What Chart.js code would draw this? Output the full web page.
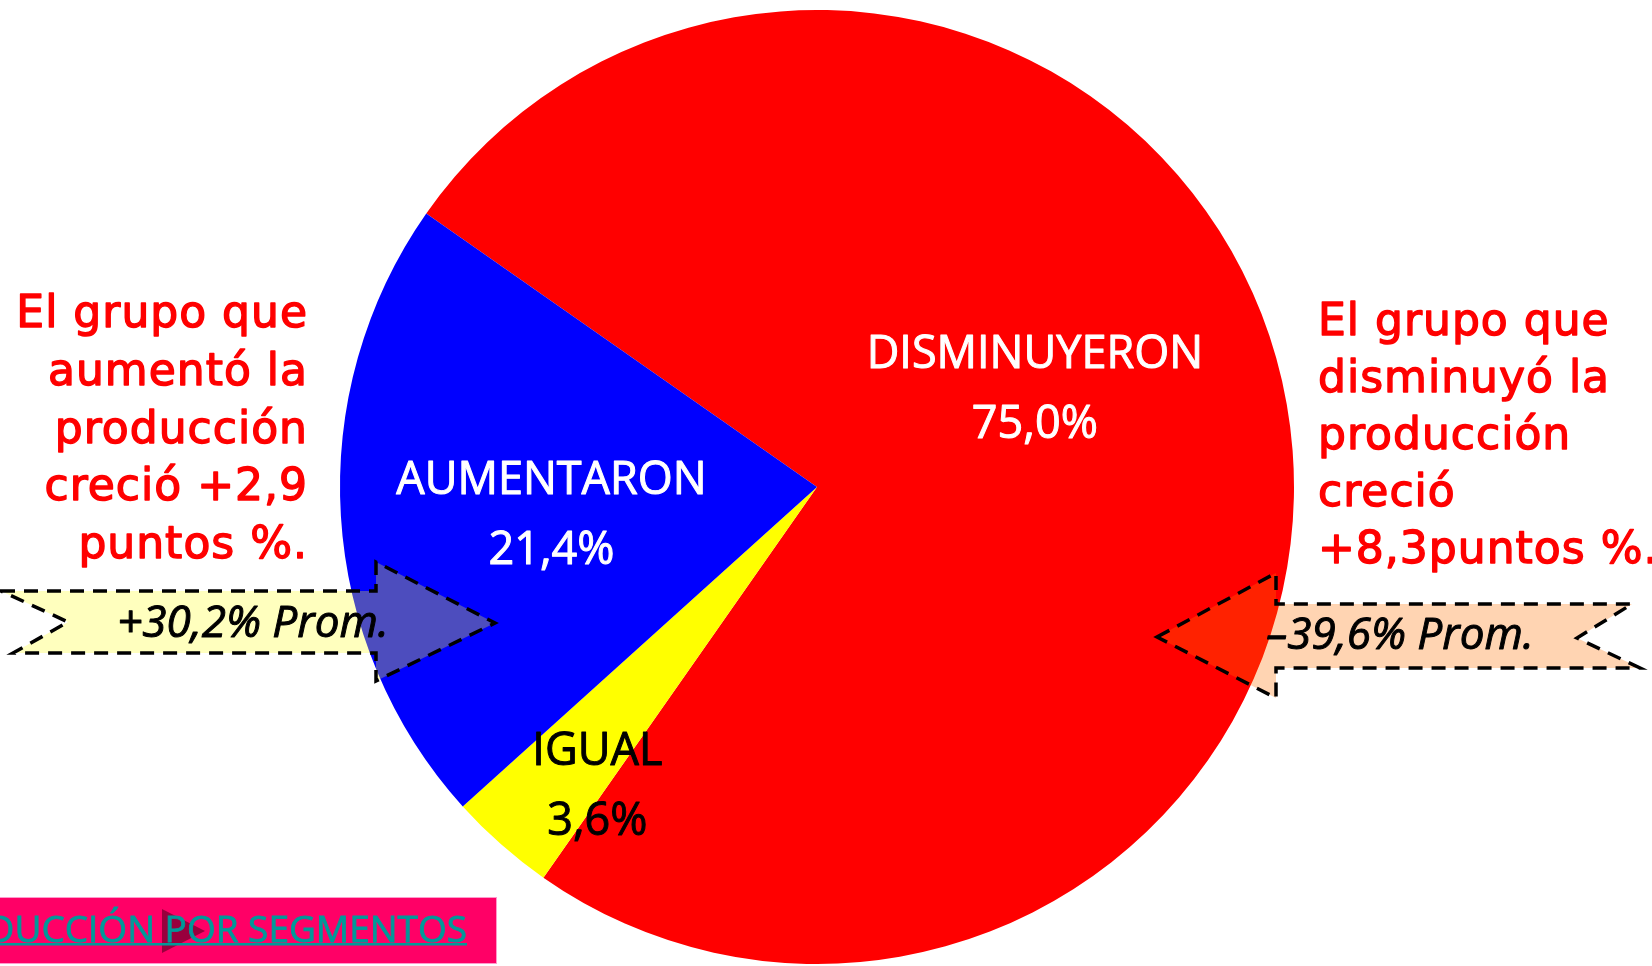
<!DOCTYPE html>
<html>
<head>
<meta charset="utf-8">
<script src="https://cdn.jsdelivr.net/npm/chart.js@4"></script>
<style>
  body { margin: 0; background: #fff; }
  canvas { display: block; }
</style>
</head>
<body>
<canvas id="pie" width="1652" height="966"></canvas>
<script>
// datos del gráfico
const categorias = ["DISMINUYERON", "IGUAL", "AUMENTARON"];
const porcentajes = [75.0, 3.6, 21.4];
const colores = ["#FF0000", "#FFFF00", "#0000FF"];
const coloresTexto = ["#FFFFFF", "#000000", "#FFFFFF"];

const notaIzq = ["El grupo que", "aumentó la", "producción", "creció +2,9", "puntos %."];
const notaDer = ["El grupo que", "disminuyó la", "producción", "creció", "+8,3puntos %."];
const promedios = ["+30,2% Prom.", "\u201339,6% Prom."];
const enlace = "PRODUCCIÓN POR SEGMENTOS";

// ajuste de la posición de cada etiqueta: [fracción del radio, giro en grados]
const posEtiqueta = [[0.50, -14], [0.78, -5.3], [0.56, -2.7]];

function fmt(v) {
  return v.toFixed(1).replace(".", ",") + "%";
}

function flecha(ctx, pts, relleno) {
  ctx.save();
  ctx.beginPath();
  ctx.moveTo(pts[0][0], pts[0][1]);
  for (let i = 1; i < pts.length; i++) ctx.lineTo(pts[i][0], pts[i][1]);
  ctx.closePath();
  ctx.fillStyle = relleno;
  ctx.fill();
  ctx.setLineDash([14, 9]);
  ctx.lineWidth = 3.5;
  ctx.strokeStyle = "#000";
  ctx.stroke();
  ctx.restore();
}

// texto con trazo fino para engrosarlo un poco
function texto(ctx, t, x, y, grosor) {
  ctx.fillText(t, x, y);
  ctx.lineWidth = grosor;
  ctx.strokeText(t, x, y);
}

const extras = {
  id: "extras",
  afterDatasetsDraw(chart) {
    const ctx = chart.ctx;
    const arcs = chart.getDatasetMeta(0).data;

    // etiquetas dentro de la torta
    ctx.save();
    ctx.font = "45px 'Open Sans'";
    ctx.textAlign = "center";
    ctx.textBaseline = "middle";
    ctx.lineJoin = "round";
    arcs.forEach((arc, i) => {
      const p = arc.getProps(["x", "y", "startAngle", "endAngle", "outerRadius"], true);
      const a = (p.startAngle + p.endAngle) / 2 + posEtiqueta[i][1] * Math.PI / 180;
      const r = p.outerRadius * posEtiqueta[i][0];
      const cx = p.x + Math.cos(a) * r;
      const cy = p.y + Math.sin(a) * r;
      ctx.fillStyle = coloresTexto[i];
      ctx.strokeStyle = coloresTexto[i];
      texto(ctx, categorias[i], cx, cy - 35, 1);
      texto(ctx, fmt(porcentajes[i]), cx, cy + 35, 1);
    });
    ctx.restore();

    // flechas de promedio
    flecha(ctx, [[1, 591], [376, 591], [376, 562], [495, 623], [376, 681], [376, 653], [13, 653], [68, 622]],
      "rgba(255,255,40,0.3)");
    flecha(ctx, [[1157, 637], [1276, 573], [1276, 604], [1632, 604], [1577, 638], [1640, 668], [1276, 668], [1276, 698]],
      "rgba(255,112,0,0.3)");

    ctx.save();
    ctx.font = "italic 44px 'Open Sans'";
    ctx.fillStyle = "#000";
    ctx.strokeStyle = "#000";
    ctx.lineJoin = "round";
    ctx.textAlign = "center";
    ctx.textBaseline = "middle";
    texto(ctx, promedios[0], 253, 624, 1);
    texto(ctx, promedios[1], 1400, 636, 1);
    ctx.restore();

    // notas en rojo
    ctx.save();
    ctx.font = "44px 'DejaVu Sans'";
    ctx.letterSpacing = "1px";
    ctx.fillStyle = "#FF0000";
    ctx.strokeStyle = "#FF0000";
    ctx.lineJoin = "round";
    ctx.textBaseline = "alphabetic";
    ctx.textAlign = "right";
    notaIzq.forEach((t, i) => texto(ctx, t, 308, 327 + i * 57.8, 1.4));
    ctx.textAlign = "left";
    notaDer.forEach((t, i) => texto(ctx, t, 1318, 335 + i * 57, 1.4));
    ctx.restore();

    // botón inferior
    ctx.save();
    ctx.fillStyle = "#FF0066";
    ctx.fillRect(0, 897, 497, 67);
    ctx.strokeStyle = "#FF99CC";
    ctx.lineWidth = 1;
    ctx.strokeRect(-1, 897.5, 497.5, 66);
    ctx.fillStyle = "rgba(0,0,0,0.4)";
    ctx.beginPath();
    ctx.moveTo(162, 909);
    ctx.lineTo(205, 931);
    ctx.lineTo(162, 953);
    ctx.closePath();
    ctx.fill();
    ctx.font = "37px 'Open Sans'";
    ctx.fillStyle = "#009999";
    ctx.strokeStyle = "#009999";
    ctx.textAlign = "right";
    ctx.textBaseline = "alphabetic";
    texto(ctx, enlace, 467, 942, 0.8);
    const w = ctx.measureText(enlace).width;
    ctx.fillRect(467 - w, 943, w, 2.5);
    ctx.restore();
  }
};

new Chart(document.getElementById("pie"), {
  type: "pie",
  data: {
    labels: categorias,
    datasets: [{
      data: porcentajes,
      backgroundColor: colores,
      borderWidth: 0
    }]
  },
  options: {
    responsive: false,
    animation: false,
    rotation: 305,
    layout: { padding: { left: 340, right: 358, top: 10, bottom: 2 } },
    plugins: {
      legend: { display: false },
      tooltip: { enabled: false }
    }
  },
  plugins: [extras]
});
</script>
</body>
</html>
